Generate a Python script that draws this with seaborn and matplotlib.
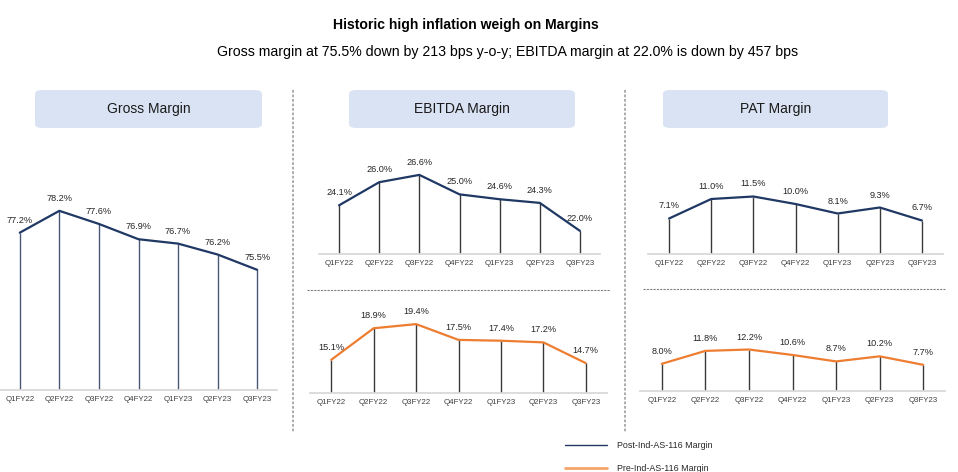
import numpy as np
import pandas as pd
import seaborn as sns
import matplotlib.pyplot as plt
from matplotlib.lines import Line2D
from matplotlib.patches import FancyBboxPatch

# data
quarters = ["Q1FY22", "Q2FY22", "Q3FY22", "Q4FY22", "Q1FY23", "Q2FY23", "Q3FY23"]
gross_margin = [77.2, 78.2, 77.6, 76.9, 76.7, 76.2, 75.5]
ebitda_post = [24.1, 26.0, 26.6, 25.0, 24.6, 24.3, 22.0]
ebitda_pre = [15.1, 18.9, 19.4, 17.5, 17.4, 17.2, 14.7]
pat_post = [7.1, 11.0, 11.5, 10.0, 8.1, 9.3, 6.7]
pat_pre = [8.0, 11.8, 12.2, 10.6, 8.7, 10.2, 7.7]

headers = ["Gross Margin", "EBITDA Margin", "PAT Margin"]
legend_labels = ["Post-Ind-AS-116 Margin", "Pre-Ind-AS-116 Margin"]
title = "Historic high inflation weigh on Margins"
subtitle = "Gross margin at 75.5% down by 213 bps y-o-y; EBITDA margin at 22.0% is down by 457 bps"

NAVY = "#1F3864"
ORANGE = "#ED7D31"
W, H = 958, 472

sns.set_theme(style="white")
plt.rcParams["font.family"] = ["Liberation Sans", "DejaVu Sans"]

fig = plt.figure(figsize=(W / 100, H / 100), dpi=100)


def px_rect(left, top, width, height):
    return [left / W, 1 - (top + height) / H, width / W, height / H]


def fx(x):
    return x / W


def fy(y):
    return 1 - y / H


def draw_panel(values, color, left, width, baseline, ymin, scale, height, drop_color):
    ax = fig.add_axes(px_rect(left, baseline - height, width, height))
    df = pd.DataFrame({"quarter": quarters, "value": values})
    sns.lineplot(data=df, x="quarter", y="value", ax=ax, color=color, linewidth=1.6, sort=False)
    ax.vlines(df["quarter"], ymin, df["value"], color=drop_color, linewidth=1.0, zorder=1)
    for q, v in zip(quarters, values):
        ax.annotate(f"{v:.1f}%", xy=(q, v), xytext=(0, 9), textcoords="offset points",
                    ha="center", va="center", fontsize=6.6, color="#262626")
    ax.set_xlim(-0.5, len(quarters) - 0.5)
    ax.set_ylim(ymin, ymin + height / scale)
    ax.set_xlabel("")
    ax.set_ylabel("")
    ax.set_yticks([])
    ax.tick_params(axis="x", length=0, pad=4, labelsize=5.7, labelcolor="#404040")
    for s in ["top", "left", "right"]:
        ax.spines[s].set_visible(False)
    ax.spines["bottom"].set_color("#D9D9D9")
    ax.spines["bottom"].set_linewidth(1.3)
    ax.patch.set_alpha(0)
    return ax


draw_panel(gross_margin, NAVY, 0, 277, 390, 70.0, 21.85, 250, "#4A5877")
draw_panel(ebitda_post, NAVY, 319, 281, 254, 20.1, 12.17, 100, "#3a3a3a")
draw_panel(ebitda_pre, ORANGE, 310, 297, 393, 11.1, 8.3, 90, "#3a3a3a")
draw_panel(pat_post, NAVY, 648, 295, 254, 0.0, 5.0, 100, "#3a3a3a")
draw_panel(pat_pre, ORANGE, 640, 305, 391, 0.0, 3.4, 90, "#3a3a3a")

# header boxes
for text, (x0, x1) in zip(headers, [(35, 262), (349, 575), (663, 888)]):
    box = FancyBboxPatch((fx(x0), fy(128)), fx(x1 - x0), (128 - 90) / H,
                         boxstyle="round,pad=0,rounding_size=0.008",
                         transform=fig.transFigure, facecolor="#DAE3F3", edgecolor="none")
    fig.add_artist(box)
    fig.text(fx((x0 + x1) / 2), fy(109), text, ha="center", va="center",
             fontsize=10, color="#1a1a1a")

# separators
for x in [293, 625]:
    fig.add_artist(Line2D([fx(x), fx(x)], [fy(90), fy(432)], transform=fig.transFigure,
                          color="#A6A6A6", linewidth=1.3, linestyle=(0, (1.5, 1))))
for x0, x1, y in [(307, 610, 290), (643, 945, 289)]:
    fig.add_artist(Line2D([fx(x0), fx(x1)], [fy(y), fy(y)], transform=fig.transFigure,
                          color="#808080", linewidth=0.8, linestyle=(0, (2, 1))))

# titles
fig.text(fx(333), fy(25), title, ha="left", va="center", fontsize=10.1, fontweight="bold", color="black")
fig.text(fx(217), fy(52), subtitle, ha="left", va="center", fontsize=10.15, color="black")

# legend
handles = [Line2D([], [], color=NAVY, linewidth=1.0),
           Line2D([], [], color="#F5A66B", linewidth=2.0)]
fig.legend(handles, legend_labels, loc="upper left", bbox_to_anchor=(fx(565), fy(441)),
           frameon=False, fontsize=6.4, handlelength=4.7, handletextpad=1.1,
           labelspacing=1.6, borderpad=0, borderaxespad=0)

fig.savefig("out.png", dpi=100)
